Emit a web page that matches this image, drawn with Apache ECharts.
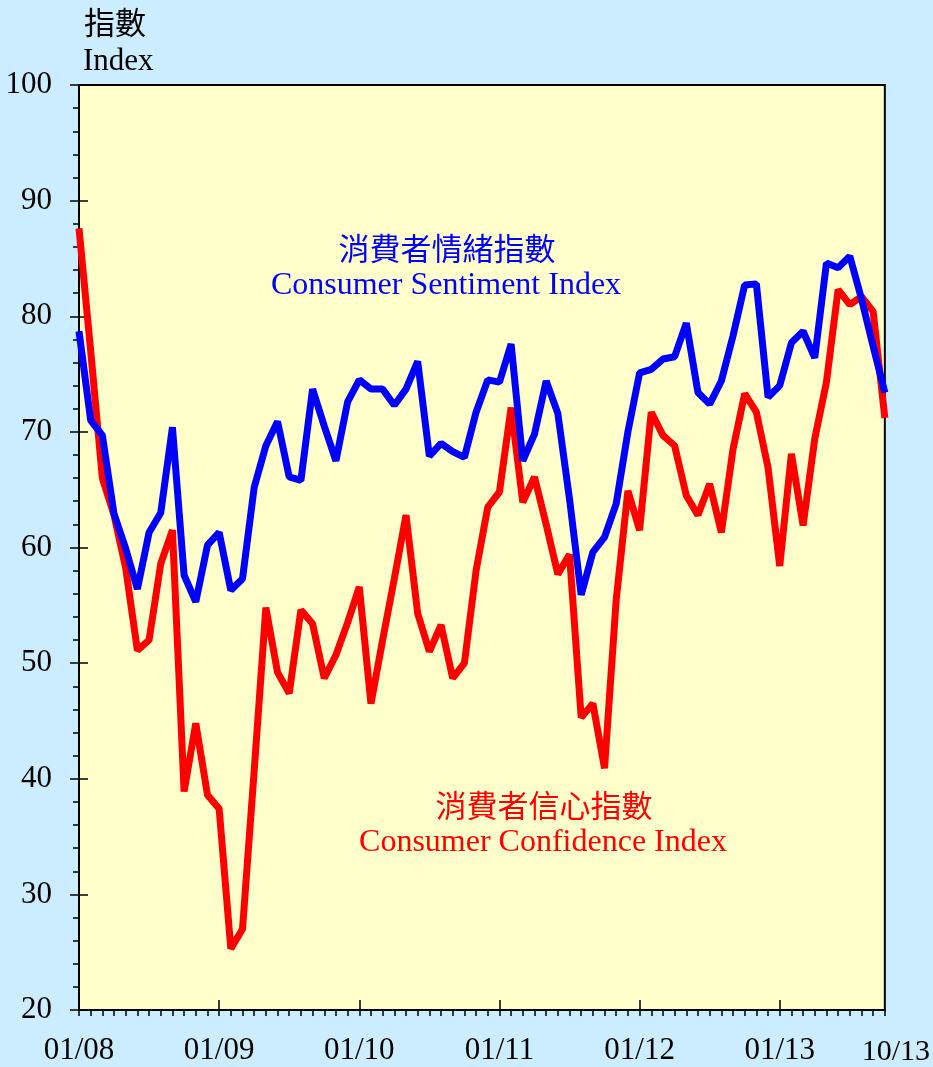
<!DOCTYPE html>
<html>
<head>
<meta charset="utf-8">
<script src="https://cdn.jsdelivr.net/npm/echarts@6/dist/echarts.min.js"></script>
<style>
  html, body { margin: 0; padding: 0; background: #CCECFF; }
  #chart { width: 933px; height: 1067px; }
</style>
</head>
<body>
<div id="chart"></div>
<script>
// monthly, 01/2008 .. 10/2013
const months = []
for (let y = 2008; y <= 2013; y++) {
  for (let m = 1; m <= 12; m++) {
    if (y === 2013 && m > 10) break
    months.push((m < 10 ? '0' + m : '' + m) + '/' + String(y).slice(2))
  }
}

// labels shown under the x axis
const xTickLabels = ['01/08', '01/09', '01/10', '01/11', '01/12', '01/13', '10/13']

// Consumer Sentiment Index (blue)
const sentiment = [
  78.7, 71.0, 69.7, 62.9, 59.9, 56.4, 61.3, 63.0, 70.4, 57.6, 55.3, 60.2,
  61.3, 56.3, 57.3, 65.2, 68.8, 70.9, 66.1, 65.8, 73.7, 70.5, 67.5, 72.6,
  74.5, 73.7, 73.7, 72.3, 73.7, 76.1, 67.9, 69.0, 68.3, 67.8, 71.7, 74.5,
  74.3, 77.6, 67.5, 69.8, 74.4, 71.6, 64.2, 55.9, 59.6, 60.9, 63.8, 70.0,
  75.1, 75.4, 76.3, 76.5, 79.4, 73.4, 72.4, 74.4, 78.3, 82.7, 82.8, 73.0,
  74.0, 77.7, 78.7, 76.4, 84.6, 84.2, 85.2, 81.5, 77.4, 73.4
]

// Consumer Confidence Index (red)
const confidence = [
  87.6, 77.0, 66.0, 62.8, 58.2, 51.1, 52.0, 58.6, 61.5, 38.9, 44.8, 38.6,
  37.4, 25.3, 27.0, 40.7, 54.8, 49.2, 47.4, 54.6, 53.4, 48.7, 50.7, 53.5,
  56.6, 46.5, 52.0, 57.3, 62.8, 54.3, 51.0, 53.3, 48.7, 50.0, 58.0, 63.5,
  64.8, 72.1, 63.9, 66.1, 62.0, 57.7, 59.4, 45.3, 46.5, 40.9, 55.5, 64.9,
  61.5, 71.7, 69.7, 68.8, 64.5, 62.8, 65.5, 61.3, 68.5, 73.3, 71.7, 66.9,
  58.4, 68.1, 61.9, 69.4, 74.3, 82.3, 81.0, 81.7, 80.4, 71.2
]

const serif = '"Liberation Serif", "Times New Roman", serif'
const cjk = '"Noto Sans CJK TC", "Noto Sans CJK SC", sans-serif'
const lastIdx = months.length - 1

const chart = echarts.init(document.getElementById('chart'))

const option = {
  animation: false,
  backgroundColor: '#CCECFF',
  grid: {
    left: 79, top: 85, right: 48, bottom: 55,
    show: true,
    backgroundColor: '#FFFFCC',
    borderColor: '#000',
    borderWidth: 2
  },
  xAxis: [
    {
      type: 'category',
      data: months,
      boundaryGap: false,
      axisLine: { lineStyle: { color: '#000', width: 2 } },
      axisTick: { interval: 0, length: 6, lineStyle: { color: '#000', width: 1.5 } },
      axisLabel: { show: false },
      splitLine: { show: false }
    },
    {
      type: 'category',
      data: months,
      boundaryGap: false,
      position: 'bottom',
      axisLine: { show: false },
      axisTick: {
        inside: true,
        length: 10,
        interval: (i) => i % 12 === 0,
        lineStyle: { color: '#000', width: 1.5 }
      },
      axisLabel: {
        interval: (i) => i % 12 === 0 || i === lastIdx,
        margin: 25,
        color: '#000',
        fontFamily: serif,
        fontSize: 31,
        formatter: (v, i) => {
          if (i === lastIdx) return '{last|' + xTickLabels[xTickLabels.length - 1] + '}'
          return xTickLabels[i / 12]
        },
        rich: {
          last: { fontFamily: serif, fontSize: 30, color: '#000', padding: [2, 0, 0, 22] }
        }
      },
      splitLine: { show: false }
    }
  ],
  yAxis: [
    {
      type: 'value',
      min: 20, max: 100, interval: 10,
      axisLine: { show: true, lineStyle: { color: '#000', width: 2 } },
      axisTick: { show: true, length: 9, lineStyle: { color: '#000', width: 1.5 } },
      minorTick: { show: true, splitNumber: 5, length: 6, lineStyle: { color: '#000', width: 1.5 } },
      axisLabel: { margin: 27, color: '#000', fontFamily: serif, fontSize: 31 },
      splitLine: { show: false }
    },
    {
      type: 'value',
      min: 20, max: 100, interval: 10,
      position: 'left',
      axisLine: { show: false },
      axisTick: { show: true, inside: true, length: 9, lineStyle: { color: '#000', width: 1.5 } },
      axisLabel: { show: false },
      splitLine: { show: false }
    }
  ],
  series: [
    {
      name: 'Consumer Confidence Index',
      type: 'line',
      data: confidence,
      showSymbol: false,
      symbol: 'none',
      lineStyle: { color: '#FF0000', width: 7 }
    },
    {
      name: 'Consumer Sentiment Index',
      type: 'line',
      data: sentiment,
      showSymbol: false,
      symbol: 'none',
      lineStyle: { color: '#0000FF', width: 7 }
    }
  ],
  graphic: [
    { type: 'text', style: { text: '指數', x: 84, y: 22, verticalAlign: 'middle', font: '31px ' + cjk, fill: '#000' } },
    { type: 'text', style: { text: 'Index', x: 83, y: 62, verticalAlign: 'middle', font: '31px ' + serif, fill: '#000' } },
    { type: 'text', style: { text: '消費者情緒指數', x: 447, y: 248, align: 'center', verticalAlign: 'middle', font: '31px ' + cjk, fill: '#0000FF' } },
    { type: 'text', style: { text: 'Consumer Sentiment Index', x: 446, y: 286, align: 'center', verticalAlign: 'middle', font: '32px ' + serif, fill: '#0000FF' } },
    { type: 'text', style: { text: '消費者信心指數', x: 544, y: 805, align: 'center', verticalAlign: 'middle', font: '31px ' + cjk, fill: '#FF0000' } },
    { type: 'text', style: { text: 'Consumer Confidence Index', x: 543, y: 843, align: 'center', verticalAlign: 'middle', font: '32px ' + serif, fill: '#FF0000' } }
  ]
}

chart.setOption(option)
</script>
</body>
</html>
